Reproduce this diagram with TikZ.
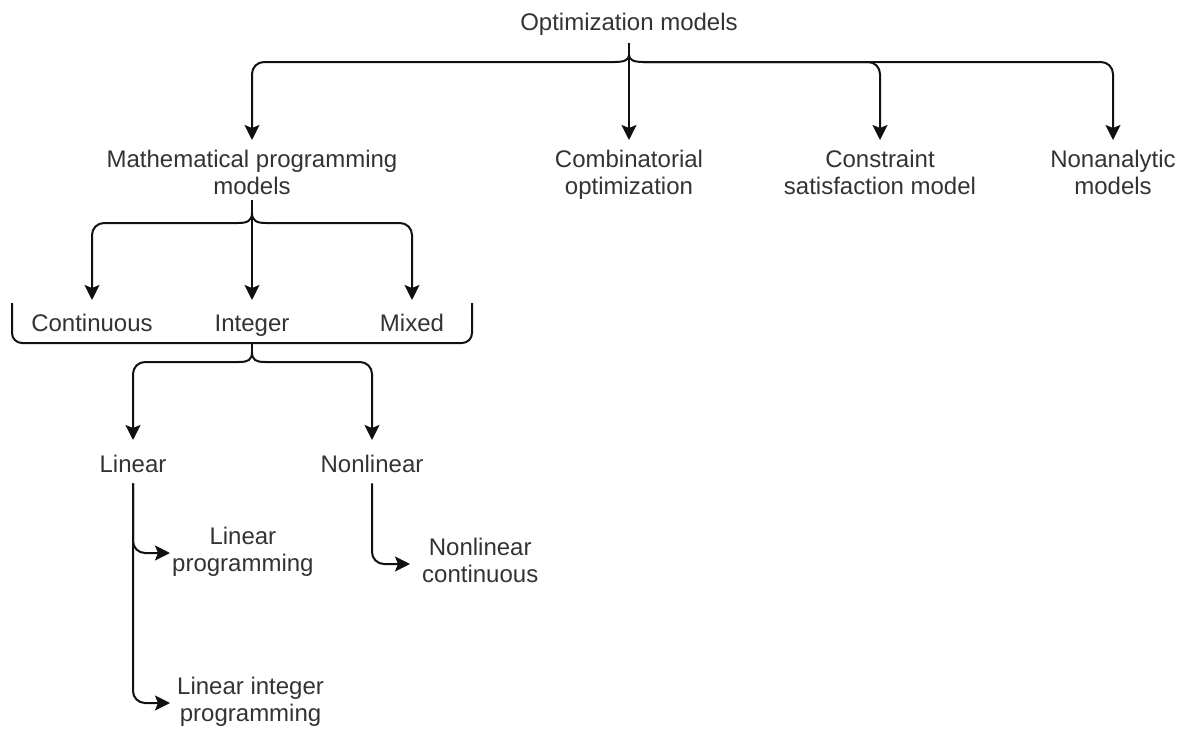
\documentclass[tikz,border=0pt]{standalone}
\usepackage{fontspec}
\setmainfont{Liberation Sans}
\usetikzlibrary{arrows.meta}
\definecolor{ink}{HTML}{111111}
\definecolor{txt}{HTML}{333333}
\begin{document}
\begin{tikzpicture}[x=1pt,y=-1pt,
  lbl/.style={text=txt, font=\fontsize{24}{27}\selectfont, align=center,
              inner xsep=2pt, inner ysep=8pt},
  wire/.style={draw=ink, line width=2pt},
  arr/.style={wire, -{Stealth[length=15pt,width=15pt,inset=3pt]}},
  elbow/.style={arr, rounded corners=12pt}]
\useasboundingbox (0,0) rectangle (1181,731);

% ---- labels ----
\node[lbl, anchor=north] (root) at (629,3) {\strut Optimization models};

\node[lbl, anchor=north] (math) at (252,140) {\strut Mathematical programming\\\strut models};
\node[lbl, anchor=north] (comb) at (629,140) {\strut Combinatorial\\\strut optimization};
\node[lbl, anchor=north] (csm)  at (880,140) {\strut Constraint\\\strut satisfaction model};
\node[lbl, anchor=north] (nam)  at (1113,140) {\strut Nonanalytic\\\strut models};

\node[lbl, anchor=north, inner ysep=12pt] (cont) at (92,300)  {\strut Continuous};
\node[lbl, anchor=north, inner ysep=12pt] (intg) at (252,300) {\strut Integer};
\node[lbl, anchor=north, inner ysep=12pt] (mixd) at (412,300) {\strut Mixed};

\node[lbl, anchor=north, inner ysep=13pt] (lin)  at (133,440) {\strut Linear};
\node[lbl, anchor=north, inner ysep=13pt] (nlin) at (372,440) {\strut Nonlinear};

\node[lbl, anchor=west, inner xsep=2pt]  (lp)  at (170,553) {\strut Linear\\\strut programming};
\node[lbl, anchor=west, inner xsep=7pt]  (lip) at (170,703) {\strut Linear integer\\\strut programming};
\node[lbl, anchor=west, inner xsep=12pt] (nlc) at (410,564) {\strut Nonlinear\\\strut continuous};

% ---- top brace: optimization models ----
\coordinate (b1)  at (629,55);
\coordinate (b1l) at (615,62);
\coordinate (b1r) at (643,62);
\draw[wire] ([yshift=3pt]root.south) -- (b1);
\draw[wire] (b1l) .. controls (624,62) and (629,60) .. (b1)
                  .. controls (629,60) and (634,62) .. (b1r);
\draw[arr] (b1) -- (comb.north);
\draw[elbow] (b1l) -- (b1l -| math.north) -- (math.north);
\draw[elbow] (b1r) -- (b1r -| csm.north) -- (csm.north);
\draw[elbow] (b1r) -- (b1r -| nam.north) -- (nam.north);

% ---- brace under mathematical programming ----
\coordinate (b2)  at (252,213);
\coordinate (b2l) at (238,223);
\coordinate (b2r) at (266,223);
\draw[arr] ([yshift=10pt]math.south) -- (intg.north);
\draw[wire] (b2l) .. controls (247,223) and (252,221) .. (b2)
                  .. controls (252,221) and (257,223) .. (b2r);
\draw[elbow] (b2l) -- (b2l -| cont.north) -- (cont.north);
\draw[elbow] (b2r) -- (b2r -| mixd.north) -- (mixd.north);

% ---- bracket grouping the variable types ----
\draw[wire, rounded corners=10pt] (12,303) -- (12,343) -- (472,343) -- (472,303);
\coordinate (grp) at (252,343);
\coordinate (b3)  at (252,352);
\coordinate (b3l) at (239,362);
\coordinate (b3r) at (265,362);
\draw[wire] (grp) -- (b3);
\draw[wire] (b3l) .. controls (248,362) and (252,360) .. (b3)
                  .. controls (252,360) and (256,362) .. (b3r);
\draw[elbow] (b3l) -- (b3l -| lin.north) -- (lin.north);
\draw[elbow] (b3r) -- (b3r -| nlin.north) -- (nlin.north);

% ---- leaves ----
\draw[elbow] ([yshift=10pt]lin.south) -- (lin.south |- lp.west) -- (lp.west);
\draw[elbow] ([yshift=10pt]lin.south) -- (lin.south |- lip.west) -- (lip.west);
\draw[elbow] ([yshift=10pt]nlin.south) -- (nlin.south |- nlc.west) -- (nlc.west);
\end{tikzpicture}
\end{document}
